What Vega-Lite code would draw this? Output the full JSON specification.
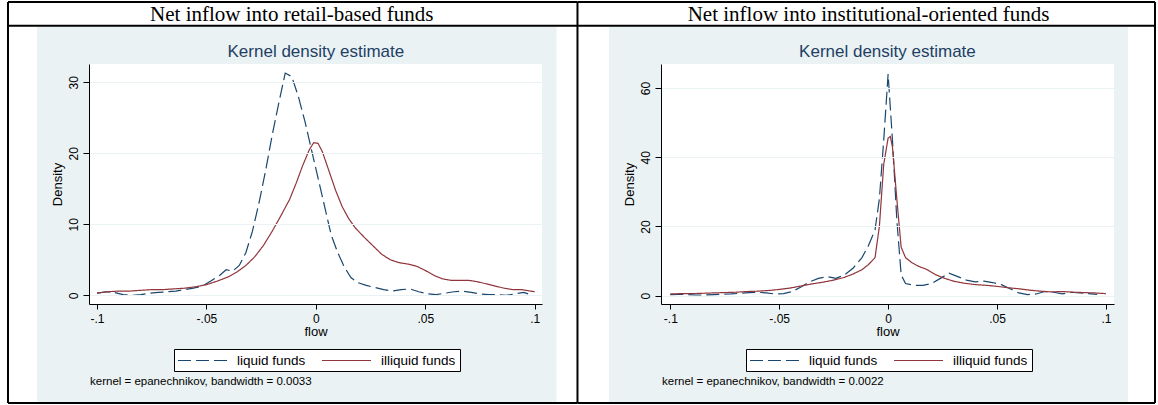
{
  "$schema": "https://vega.github.io/schema/vega-lite/v6.json",
  "background": "white",
  "padding": {"left": 6, "top": 1, "right": 0, "bottom": 0},
  "spacing": 119,
  "bounds": "flush",
  "resolve": {
    "scale": {"color": "shared", "strokeDash": "shared"},
    "legend": {"color": "independent", "strokeDash": "independent"}
  },
  "datasets": {
    "retail": [
      {"series": "liquid funds", "flow": -0.1, "density": 0.3},
      {"series": "liquid funds", "flow": -0.096, "density": 0.5},
      {"series": "liquid funds", "flow": -0.092, "density": 0.4},
      {"series": "liquid funds", "flow": -0.088, "density": 0.1},
      {"series": "liquid funds", "flow": -0.084, "density": 0.0},
      {"series": "liquid funds", "flow": -0.08, "density": 0.1},
      {"series": "liquid funds", "flow": -0.076, "density": 0.3},
      {"series": "liquid funds", "flow": -0.072, "density": 0.4},
      {"series": "liquid funds", "flow": -0.068, "density": 0.5},
      {"series": "liquid funds", "flow": -0.064, "density": 0.6},
      {"series": "liquid funds", "flow": -0.06, "density": 0.8},
      {"series": "liquid funds", "flow": -0.056, "density": 1.0},
      {"series": "liquid funds", "flow": -0.052, "density": 1.3},
      {"series": "liquid funds", "flow": -0.048, "density": 2.0},
      {"series": "liquid funds", "flow": -0.044, "density": 2.8},
      {"series": "liquid funds", "flow": -0.041, "density": 3.6},
      {"series": "liquid funds", "flow": -0.038, "density": 3.4},
      {"series": "liquid funds", "flow": -0.035, "density": 4.2},
      {"series": "liquid funds", "flow": -0.032, "density": 6.0},
      {"series": "liquid funds", "flow": -0.029, "density": 9.0},
      {"series": "liquid funds", "flow": -0.026, "density": 13.0},
      {"series": "liquid funds", "flow": -0.023, "density": 17.5},
      {"series": "liquid funds", "flow": -0.02, "density": 22.5},
      {"series": "liquid funds", "flow": -0.017, "density": 27.0},
      {"series": "liquid funds", "flow": -0.014, "density": 31.3},
      {"series": "liquid funds", "flow": -0.011, "density": 30.8},
      {"series": "liquid funds", "flow": -0.008, "density": 28.0},
      {"series": "liquid funds", "flow": -0.005, "density": 24.5},
      {"series": "liquid funds", "flow": -0.002, "density": 20.5},
      {"series": "liquid funds", "flow": 0.001, "density": 16.5},
      {"series": "liquid funds", "flow": 0.004, "density": 12.5},
      {"series": "liquid funds", "flow": 0.007, "density": 8.5},
      {"series": "liquid funds", "flow": 0.01, "density": 6.0},
      {"series": "liquid funds", "flow": 0.013, "density": 4.0},
      {"series": "liquid funds", "flow": 0.016, "density": 2.5},
      {"series": "liquid funds", "flow": 0.019, "density": 1.8},
      {"series": "liquid funds", "flow": 0.023, "density": 1.4},
      {"series": "liquid funds", "flow": 0.027, "density": 1.1},
      {"series": "liquid funds", "flow": 0.031, "density": 0.8},
      {"series": "liquid funds", "flow": 0.035, "density": 0.6},
      {"series": "liquid funds", "flow": 0.039, "density": 0.8},
      {"series": "liquid funds", "flow": 0.043, "density": 0.9},
      {"series": "liquid funds", "flow": 0.047, "density": 0.5},
      {"series": "liquid funds", "flow": 0.051, "density": 0.2},
      {"series": "liquid funds", "flow": 0.055, "density": 0.1},
      {"series": "liquid funds", "flow": 0.059, "density": 0.3},
      {"series": "liquid funds", "flow": 0.063, "density": 0.5},
      {"series": "liquid funds", "flow": 0.067, "density": 0.6},
      {"series": "liquid funds", "flow": 0.071, "density": 0.4},
      {"series": "liquid funds", "flow": 0.075, "density": 0.2},
      {"series": "liquid funds", "flow": 0.079, "density": 0.1},
      {"series": "liquid funds", "flow": 0.083, "density": 0.1},
      {"series": "liquid funds", "flow": 0.087, "density": 0.0},
      {"series": "liquid funds", "flow": 0.091, "density": 0.2},
      {"series": "liquid funds", "flow": 0.095, "density": 0.4},
      {"series": "liquid funds", "flow": 0.097, "density": 0.2},
      {"series": "illiquid funds", "flow": -0.1, "density": 0.3},
      {"series": "illiquid funds", "flow": -0.095, "density": 0.5},
      {"series": "illiquid funds", "flow": -0.09, "density": 0.6},
      {"series": "illiquid funds", "flow": -0.085, "density": 0.6},
      {"series": "illiquid funds", "flow": -0.08, "density": 0.7},
      {"series": "illiquid funds", "flow": -0.075, "density": 0.8},
      {"series": "illiquid funds", "flow": -0.07, "density": 0.8},
      {"series": "illiquid funds", "flow": -0.065, "density": 0.9},
      {"series": "illiquid funds", "flow": -0.06, "density": 1.0},
      {"series": "illiquid funds", "flow": -0.055, "density": 1.2},
      {"series": "illiquid funds", "flow": -0.05, "density": 1.5},
      {"series": "illiquid funds", "flow": -0.045, "density": 2.0},
      {"series": "illiquid funds", "flow": -0.04, "density": 2.6},
      {"series": "illiquid funds", "flow": -0.036, "density": 3.3},
      {"series": "illiquid funds", "flow": -0.032, "density": 4.2},
      {"series": "illiquid funds", "flow": -0.028, "density": 5.4},
      {"series": "illiquid funds", "flow": -0.024, "density": 7.0},
      {"series": "illiquid funds", "flow": -0.02, "density": 9.0},
      {"series": "illiquid funds", "flow": -0.016, "density": 11.2},
      {"series": "illiquid funds", "flow": -0.012, "density": 13.5},
      {"series": "illiquid funds", "flow": -0.009, "density": 15.8},
      {"series": "illiquid funds", "flow": -0.006, "density": 18.3},
      {"series": "illiquid funds", "flow": -0.003, "density": 20.5},
      {"series": "illiquid funds", "flow": -0.001, "density": 21.5},
      {"series": "illiquid funds", "flow": 0.001, "density": 21.4},
      {"series": "illiquid funds", "flow": 0.003, "density": 20.2},
      {"series": "illiquid funds", "flow": 0.006, "density": 17.5},
      {"series": "illiquid funds", "flow": 0.009, "density": 14.8},
      {"series": "illiquid funds", "flow": 0.012, "density": 12.5},
      {"series": "illiquid funds", "flow": 0.015, "density": 10.8},
      {"series": "illiquid funds", "flow": 0.018, "density": 9.5},
      {"series": "illiquid funds", "flow": 0.022, "density": 8.2},
      {"series": "illiquid funds", "flow": 0.026, "density": 7.0},
      {"series": "illiquid funds", "flow": 0.03, "density": 5.8},
      {"series": "illiquid funds", "flow": 0.034, "density": 5.0},
      {"series": "illiquid funds", "flow": 0.038, "density": 4.6},
      {"series": "illiquid funds", "flow": 0.042, "density": 4.4},
      {"series": "illiquid funds", "flow": 0.046, "density": 4.1},
      {"series": "illiquid funds", "flow": 0.05, "density": 3.5},
      {"series": "illiquid funds", "flow": 0.054, "density": 2.8},
      {"series": "illiquid funds", "flow": 0.058, "density": 2.3},
      {"series": "illiquid funds", "flow": 0.062, "density": 2.1},
      {"series": "illiquid funds", "flow": 0.066, "density": 2.1},
      {"series": "illiquid funds", "flow": 0.07, "density": 2.1},
      {"series": "illiquid funds", "flow": 0.074, "density": 1.9},
      {"series": "illiquid funds", "flow": 0.078, "density": 1.6},
      {"series": "illiquid funds", "flow": 0.082, "density": 1.3},
      {"series": "illiquid funds", "flow": 0.086, "density": 1.0},
      {"series": "illiquid funds", "flow": 0.09, "density": 0.8},
      {"series": "illiquid funds", "flow": 0.094, "density": 0.8},
      {"series": "illiquid funds", "flow": 0.098, "density": 0.6},
      {"series": "illiquid funds", "flow": 0.1, "density": 0.5}
    ],
    "inst": [
      {"series": "liquid funds", "flow": -0.1, "density": 0.3},
      {"series": "liquid funds", "flow": -0.096, "density": 0.4},
      {"series": "liquid funds", "flow": -0.092, "density": 0.3},
      {"series": "liquid funds", "flow": -0.088, "density": 0.2},
      {"series": "liquid funds", "flow": -0.084, "density": 0.2},
      {"series": "liquid funds", "flow": -0.08, "density": 0.3},
      {"series": "liquid funds", "flow": -0.076, "density": 0.4},
      {"series": "liquid funds", "flow": -0.072, "density": 0.5},
      {"series": "liquid funds", "flow": -0.068, "density": 0.7},
      {"series": "liquid funds", "flow": -0.064, "density": 0.9},
      {"series": "liquid funds", "flow": -0.06, "density": 1.0},
      {"series": "liquid funds", "flow": -0.056, "density": 0.8},
      {"series": "liquid funds", "flow": -0.052, "density": 0.5},
      {"series": "liquid funds", "flow": -0.048, "density": 0.6},
      {"series": "liquid funds", "flow": -0.044, "density": 1.2},
      {"series": "liquid funds", "flow": -0.04, "density": 2.5},
      {"series": "liquid funds", "flow": -0.036, "density": 4.0},
      {"series": "liquid funds", "flow": -0.032, "density": 5.0},
      {"series": "liquid funds", "flow": -0.028, "density": 5.5},
      {"series": "liquid funds", "flow": -0.024, "density": 5.0},
      {"series": "liquid funds", "flow": -0.02, "density": 6.0},
      {"series": "liquid funds", "flow": -0.016, "density": 8.0},
      {"series": "liquid funds", "flow": -0.012, "density": 11.0},
      {"series": "liquid funds", "flow": -0.009, "density": 14.5},
      {"series": "liquid funds", "flow": -0.006, "density": 19.0},
      {"series": "liquid funds", "flow": -0.004, "density": 28.0},
      {"series": "liquid funds", "flow": -0.002, "density": 45.0},
      {"series": "liquid funds", "flow": 0.0, "density": 64.0},
      {"series": "liquid funds", "flow": 0.002, "density": 45.0},
      {"series": "liquid funds", "flow": 0.004, "density": 22.0},
      {"series": "liquid funds", "flow": 0.006, "density": 6.0},
      {"series": "liquid funds", "flow": 0.008, "density": 3.5},
      {"series": "liquid funds", "flow": 0.012, "density": 3.0},
      {"series": "liquid funds", "flow": 0.016, "density": 3.0},
      {"series": "liquid funds", "flow": 0.02, "density": 3.5},
      {"series": "liquid funds", "flow": 0.024, "density": 5.0},
      {"series": "liquid funds", "flow": 0.028, "density": 6.5},
      {"series": "liquid funds", "flow": 0.032, "density": 5.5},
      {"series": "liquid funds", "flow": 0.036, "density": 4.5},
      {"series": "liquid funds", "flow": 0.04, "density": 4.0},
      {"series": "liquid funds", "flow": 0.044, "density": 4.2},
      {"series": "liquid funds", "flow": 0.048, "density": 3.8},
      {"series": "liquid funds", "flow": 0.052, "density": 3.2},
      {"series": "liquid funds", "flow": 0.056, "density": 2.0},
      {"series": "liquid funds", "flow": 0.06, "density": 0.8},
      {"series": "liquid funds", "flow": 0.064, "density": 0.3},
      {"series": "liquid funds", "flow": 0.068, "density": 0.5},
      {"series": "liquid funds", "flow": 0.072, "density": 1.2},
      {"series": "liquid funds", "flow": 0.076, "density": 1.0},
      {"series": "liquid funds", "flow": 0.08, "density": 0.5},
      {"series": "liquid funds", "flow": 0.084, "density": 1.0},
      {"series": "liquid funds", "flow": 0.088, "density": 0.8},
      {"series": "liquid funds", "flow": 0.092, "density": 0.6},
      {"series": "liquid funds", "flow": 0.096, "density": 0.4},
      {"series": "illiquid funds", "flow": -0.1, "density": 0.5},
      {"series": "illiquid funds", "flow": -0.095, "density": 0.6},
      {"series": "illiquid funds", "flow": -0.09, "density": 0.6},
      {"series": "illiquid funds", "flow": -0.085, "density": 0.7},
      {"series": "illiquid funds", "flow": -0.08, "density": 0.8},
      {"series": "illiquid funds", "flow": -0.075, "density": 0.9},
      {"series": "illiquid funds", "flow": -0.07, "density": 1.0},
      {"series": "illiquid funds", "flow": -0.065, "density": 1.2},
      {"series": "illiquid funds", "flow": -0.06, "density": 1.3},
      {"series": "illiquid funds", "flow": -0.055, "density": 1.5},
      {"series": "illiquid funds", "flow": -0.05, "density": 1.8},
      {"series": "illiquid funds", "flow": -0.045, "density": 2.2},
      {"series": "illiquid funds", "flow": -0.04, "density": 2.8},
      {"series": "illiquid funds", "flow": -0.035, "density": 3.4},
      {"series": "illiquid funds", "flow": -0.03, "density": 3.9},
      {"series": "illiquid funds", "flow": -0.025, "density": 4.5},
      {"series": "illiquid funds", "flow": -0.02, "density": 5.3},
      {"series": "illiquid funds", "flow": -0.016, "density": 6.3},
      {"series": "illiquid funds", "flow": -0.012, "density": 7.5},
      {"series": "illiquid funds", "flow": -0.009, "density": 9.0},
      {"series": "illiquid funds", "flow": -0.006, "density": 11.0},
      {"series": "illiquid funds", "flow": -0.004, "density": 20.0},
      {"series": "illiquid funds", "flow": -0.002, "density": 38.0},
      {"series": "illiquid funds", "flow": 0.0, "density": 45.5},
      {"series": "illiquid funds", "flow": 0.001, "density": 46.0},
      {"series": "illiquid funds", "flow": 0.002, "density": 43.0},
      {"series": "illiquid funds", "flow": 0.004, "density": 28.0},
      {"series": "illiquid funds", "flow": 0.006, "density": 14.0},
      {"series": "illiquid funds", "flow": 0.008, "density": 11.0},
      {"series": "illiquid funds", "flow": 0.011, "density": 9.5},
      {"series": "illiquid funds", "flow": 0.014, "density": 8.5},
      {"series": "illiquid funds", "flow": 0.018, "density": 7.5},
      {"series": "illiquid funds", "flow": 0.022, "density": 6.0},
      {"series": "illiquid funds", "flow": 0.026, "density": 5.0},
      {"series": "illiquid funds", "flow": 0.03, "density": 4.2},
      {"series": "illiquid funds", "flow": 0.035, "density": 3.6},
      {"series": "illiquid funds", "flow": 0.04, "density": 3.2},
      {"series": "illiquid funds", "flow": 0.045, "density": 3.0},
      {"series": "illiquid funds", "flow": 0.05, "density": 2.7},
      {"series": "illiquid funds", "flow": 0.055, "density": 2.3},
      {"series": "illiquid funds", "flow": 0.06, "density": 2.0},
      {"series": "illiquid funds", "flow": 0.065, "density": 1.6},
      {"series": "illiquid funds", "flow": 0.07, "density": 1.3},
      {"series": "illiquid funds", "flow": 0.075, "density": 1.1},
      {"series": "illiquid funds", "flow": 0.08, "density": 1.2},
      {"series": "illiquid funds", "flow": 0.085, "density": 1.0},
      {"series": "illiquid funds", "flow": 0.09, "density": 0.9},
      {"series": "illiquid funds", "flow": 0.095, "density": 0.8},
      {"series": "illiquid funds", "flow": 0.1, "density": 0.6}
    ]
  },
  "hconcat": [
    {
      "width": 453,
      "height": 240,
      "layer": [
        {"data": {"values": [{}]}, "mark": {"type": "rect", "fill": "#eaf2f3"},
         "encoding": {"x": {"datum": -0.12742}, "x2": {"datum": 0.10994}, "y": {"datum": 37.86}, "y2": {"datum": -15.17}}},
        {"data": {"values": [{}]}, "mark": {"type": "rect", "fill": "white"},
         "encoding": {"x": {"datum": -0.10366}, "x2": {"datum": 0.10332}, "y": {"datum": 32.58}, "y2": {"datum": -1.225}}},
        {"data": {"values": [{}]}, "mark": {"type": "rule", "stroke": "black", "strokeWidth": 2},
         "encoding": {"x": {"datum": -0.14067}, "y": {"datum": 41.31}, "y2": {"datum": -15.17}}},
        {"data": {"values": [{}]}, "mark": {"type": "rule", "stroke": "black", "strokeWidth": 2},
         "encoding": {"x": {"datum": 0.11953}, "y": {"datum": 41.31}, "y2": {"datum": -15.17}}},
        {"data": {"values": [{}]}, "mark": {"type": "rule", "stroke": "black", "strokeWidth": 2},
         "encoding": {"y": {"datum": 41.31}, "x": {"datum": -0.14067}, "x2": {"datum": 0.11953}}},
        {"data": {"values": [{}]}, "mark": {"type": "rule", "stroke": "black", "strokeWidth": 2},
         "encoding": {"y": {"datum": 37.97}, "x": {"datum": -0.14067}, "x2": {"datum": 0.11953}}},
        {"data": {"values": [{}]}, "mark": {"type": "rule", "stroke": "black", "strokeWidth": 2},
         "encoding": {"y": {"datum": -15.17}, "x": {"datum": -0.14067}, "x2": {"datum": 0.11953}}},
        {"data": {"values": [{}]}, "mark": {"type": "text", "text": "Net inflow into retail-based funds", "font": "Liberation Serif", "fontSize": 21, "align": "center", "baseline": "alphabetic", "color": "black"},
         "encoding": {"x": {"datum": -0.011}, "y": {"datum": 38.57}}},
        {"data": {"values": [{}]}, "mark": {"type": "text", "text": "Kernel density estimate", "font": "Liberation Sans", "fontSize": 17, "align": "center", "baseline": "alphabetic", "color": "#1e3f66"},
         "encoding": {"x": {"datum": 0.0}, "y": {"datum": 33.57}}},
        {"data": {"values": [{}]}, "mark": {"type": "text", "text": "kernel = epanechnikov, bandwidth = 0.0033", "font": "Liberation Sans", "fontSize": 11.5, "align": "left", "baseline": "alphabetic", "color": "black"},
         "encoding": {"x": {"datum": -0.1032}, "y": {"datum": -12.63}}},
        {
          "data": {"name": "retail"},
          "mark": {"type": "line", "strokeWidth": 1.2},
          "encoding": {
            "x": {"field": "flow", "type": "quantitative", "scale": {"domain": [-0.10366, 0.10332], "nice": false, "zero": false},
                  "axis": {"title": "flow", "values": [-0.1, -0.05, 0, 0.05, 0.1], "labelExpr": "replace(datum.value + '', '0.', '.')", "grid": false, "tickSize": 5, "labelPadding": 4, "titlePadding": 1, "labelFlush": false, "zindex": 1}},
            "y": {"field": "density", "type": "quantitative", "scale": {"domain": [-1.225, 32.58], "nice": false, "zero": false},
                  "axis": {"title": "Density", "values": [0, 10, 20, 30], "grid": true, "labelAngle": -90, "labelAlign": "center", "labelBaseline": "bottom", "labelPadding": 3, "tickSize": 6, "titlePadding": 3, "zindex": 1}},
            "color": {"field": "series", "type": "nominal", "scale": {"domain": ["liquid funds", "illiquid funds"], "range": ["#1a476f", "#90353b"]}, "legend": {"title": null, "symbolType": "M-3.77,0H3.77"}},
            "strokeDash": {"field": "series", "type": "nominal", "scale": {"domain": ["liquid funds", "illiquid funds"], "range": [[13, 5], [1, 0]]}, "legend": {"title": null, "symbolType": "M-3.77,0H3.77"}}
          }
        }
      ]
    },
    {
      "width": 453,
      "height": 240,
      "layer": [
        {"data": {"values": [{}]}, "mark": {"type": "rect", "fill": "#eaf2f3"},
         "encoding": {"x": {"datum": -0.12815}, "x2": {"datum": 0.11015}, "y": {"datum": 77.76}, "y2": {"datum": -31.0}}},
        {"data": {"values": [{}]}, "mark": {"type": "rect", "fill": "white"},
         "encoding": {"x": {"datum": -0.10427}, "x2": {"datum": 0.10372}, "y": {"datum": 66.93}, "y2": {"datum": -2.4}}},
        {"data": {"values": [{}]}, "mark": {"type": "rule", "stroke": "black", "strokeWidth": 2},
         "encoding": {"x": {"datum": 0.12254}, "y": {"datum": 84.84}, "y2": {"datum": -31.0}}},
        {"data": {"values": [{}]}, "mark": {"type": "rule", "stroke": "black", "strokeWidth": 2},
         "encoding": {"y": {"datum": 84.84}, "x": {"datum": -0.14261}, "x2": {"datum": 0.12254}}},
        {"data": {"values": [{}]}, "mark": {"type": "rule", "stroke": "black", "strokeWidth": 2},
         "encoding": {"y": {"datum": 77.99}, "x": {"datum": -0.14261}, "x2": {"datum": 0.12254}}},
        {"data": {"values": [{}]}, "mark": {"type": "rule", "stroke": "black", "strokeWidth": 2},
         "encoding": {"y": {"datum": -31.0}, "x": {"datum": -0.14261}, "x2": {"datum": 0.12254}}},
        {"data": {"values": [{}]}, "mark": {"type": "text", "text": "Net inflow into institutional-oriented funds", "font": "Liberation Serif", "fontSize": 21, "align": "center", "baseline": "alphabetic", "color": "black"},
         "encoding": {"x": {"datum": -0.009}, "y": {"datum": 79.21}}},
        {"data": {"values": [{}]}, "mark": {"type": "text", "text": "Kernel density estimate", "font": "Liberation Sans", "fontSize": 17, "align": "center", "baseline": "alphabetic", "color": "#1e3f66"},
         "encoding": {"x": {"datum": -0.0003}, "y": {"datum": 68.95}}},
        {"data": {"values": [{}]}, "mark": {"type": "text", "text": "kernel = epanechnikov, bandwidth = 0.0022", "font": "Liberation Sans", "fontSize": 11.5, "align": "left", "baseline": "alphabetic", "color": "black"},
         "encoding": {"x": {"datum": -0.1038}, "y": {"datum": -25.8}}},
        {
          "data": {"name": "inst"},
          "mark": {"type": "line", "strokeWidth": 1.2},
          "encoding": {
            "x": {"field": "flow", "type": "quantitative", "scale": {"domain": [-0.10427, 0.10372], "nice": false, "zero": false},
                  "axis": {"title": "flow", "values": [-0.1, -0.05, 0, 0.05, 0.1], "labelExpr": "replace(datum.value + '', '0.', '.')", "grid": false, "tickSize": 5, "labelPadding": 4, "titlePadding": 1, "labelFlush": false, "zindex": 1}},
            "y": {"field": "density", "type": "quantitative", "scale": {"domain": [-2.4, 66.93], "nice": false, "zero": false},
                  "axis": {"title": "Density", "values": [0, 20, 40, 60], "grid": true, "labelAngle": -90, "labelAlign": "center", "labelBaseline": "bottom", "labelPadding": 3, "tickSize": 6, "titlePadding": 3, "zindex": 1}},
            "color": {"field": "series", "type": "nominal", "scale": {"domain": ["liquid funds", "illiquid funds"], "range": ["#1a476f", "#90353b"]}, "legend": {"title": null, "symbolType": "M-3.77,0H3.77"}},
            "strokeDash": {"field": "series", "type": "nominal", "scale": {"domain": ["liquid funds", "illiquid funds"], "range": [[13, 5], [1, 0]]}, "legend": {"title": null, "symbolType": "M-3.77,0H3.77"}}
          }
        }
      ]
    }
  ],
  "config": {
    "font": "Liberation Sans",
    "view": {"stroke": null, "fill": "white"},
    "axis": {
      "domainColor": "black", "domainWidth": 1, "tickColor": "black", "tickWidth": 1,
      "labelColor": "black", "titleColor": "black", "labelFont": "Liberation Sans", "titleFont": "Liberation Sans",
      "labelFontSize": 12, "titleFontSize": 13, "titleFontWeight": "normal", "zindex": 1,
      "gridColor": "#eaf2f3", "gridWidth": 1, "labelOverlap": false
    },
    "legend": {
      "orient": "none", "legendX": 85, "legendY": 285, "direction": "horizontal", "columns": 2,
      "strokeColor": "black", "fillColor": "white", "padding": 4,
      "symbolSize": 169, "symbolStrokeWidth": 1.2, "symbolOffset": 17, "labelOffset": 27,
      "labelFontSize": 13.5, "labelColor": "black", "labelFont": "Liberation Sans",
      "columnPadding": 13, "rowPadding": 0, "labelLimit": 300
    }
  }
}
